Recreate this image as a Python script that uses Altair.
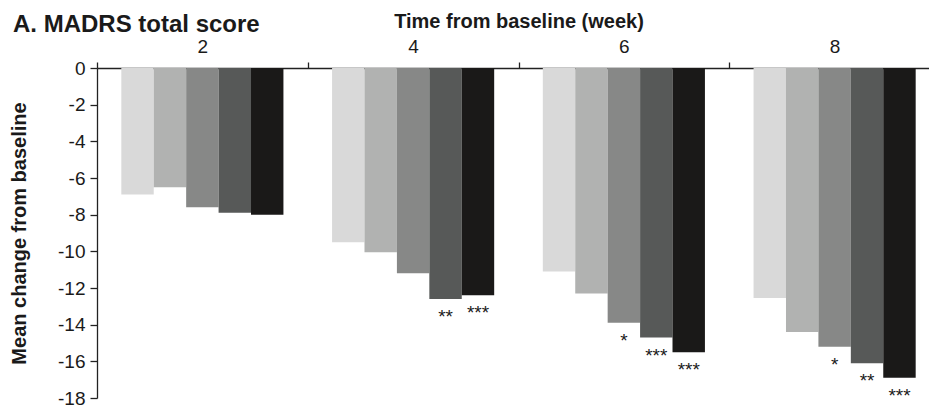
import altair as alt
import pandas as pd

title_text = "A. MADRS total score"
weeks = ["2", "4", "6", "8"]
arms = ["Arm 1", "Arm 2", "Arm 3", "Arm 4", "Arm 5"]
week2 = [-6.9, -6.5, -7.6, -7.9, -8.0]
week4 = [-9.5, -10.05, -11.2, -12.6, -12.4]
week6 = [-11.1, -12.3, -13.9, -14.7, -15.5]
week8 = [-12.55, -14.4, -15.2, -16.1, -16.9]
sig2 = ["", "", "", "", ""]
sig4 = ["", "", "", "**", "***"]
sig6 = ["", "", "*", "***", "***"]
sig8 = ["", "", "*", "**", "***"]
colors = ["#d9d9d9", "#b1b2b1", "#878887", "#575958", "#1a1918"]
y_ticks = list(range(-18, 1, 2))

rows = []
for wk, vals, sigs in zip(weeks, [week2, week4, week6, week8], [sig2, sig4, sig6, sig8]):
    for arm, v, s in zip(arms, vals, sigs):
        rows.append({"week": wk, "arm": arm, "value": v, "sig": s})
df = pd.DataFrame(rows)

FONT = "Liberation Sans"

x = alt.X(
    "week:N", sort=weeks,
    scale=alt.Scale(paddingInner=0, paddingOuter=0),
    axis=alt.Axis(
        orient="top", title="Time from baseline (week)", labelAngle=0,
        tickBand="extent", tickSize=6, labelPadding=6, titlePadding=6,
        labelFontSize=19, titleFontSize=20,
    ),
)
xo = alt.XOffset("arm:N", sort=arms, scale=alt.Scale(paddingInner=0, paddingOuter=0.75))
y = alt.Y(
    "value:Q",
    scale=alt.Scale(domain=[-18, 0], nice=False),
    axis=alt.Axis(
        values=y_ticks, labelExpr="'' + datum.value", title="Mean change from baseline",
        tickSize=7, labelPadding=5, titlePadding=28, labelFontSize=19, titleFontSize=20,
    ),
)

bars = alt.Chart(df).mark_bar().encode(
    x=x, xOffset=xo, y=y,
    color=alt.Color("arm:N", sort=arms, scale=alt.Scale(domain=arms, range=colors), legend=None),
)
labels = alt.Chart(df).mark_text(baseline="top", dy=9, fontSize=19, font=FONT, color="#1a1a1a").encode(
    x=x, xOffset=xo, y=y, text="sig:N"
)
heading = alt.Chart(pd.DataFrame({"t": [title_text]})).mark_text(
    align="left", baseline="alphabetic", fontSize=24, fontWeight="bold", font=FONT, color="#1a1a1a"
).encode(text="t:N", x=alt.value(-84), y=alt.value(-36))

chart = alt.layer(bars, labels, heading).properties(
    width=843, height=330,
    autosize=alt.AutoSizeParams(type="none"),
    padding={"top": 60, "left": 89, "right": -11, "bottom": 10},
).configure_view(stroke=None).configure_axis(
    labelFont=FONT, titleFont=FONT, labelColor="#1a1a1a", titleColor="#1a1a1a",
    titleFontWeight="bold", domainColor="#222222", tickColor="#222222",
    domainWidth=1.3, tickWidth=1.3, grid=False,
)

chart.save("out.html", embed_options={"renderer": "svg", "actions": False})
